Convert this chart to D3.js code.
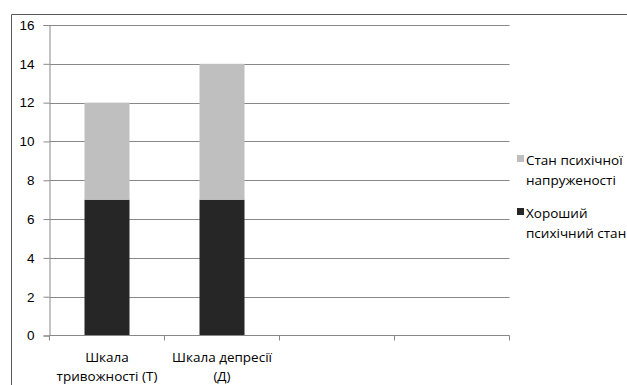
<!DOCTYPE html>
<html>
<head>
<meta charset="utf-8">
<script src="https://cdn.jsdelivr.net/npm/d3@7"></script>
<style>
  html, body { margin: 0; padding: 0; background: #fff; }
  svg { display: block; font-family: "Open Sans", "Noto Sans", sans-serif; }
</style>
</head>
<body>
<svg id="chart" width="627" height="385"></svg>
<script>
// Categories (x-axis labels, split into display lines); the last two slots are empty
const categories = ["Шкала тривожності (Т)", "Шкала депресії (Д)", "", ""];
const categoryLines = [["Шкала", "тривожності (Т)"], ["Шкала депресії", "(Д)"], [], []];

// Stacked series values
const seriesNames = ["Хороший психічний стан", "Стан психічної напруженості"];
const goodState = [7, 7, 0, 0];
const tensionState = [5, 7, 0, 0];

// Y-axis ticks
const yTicks = [0, 2, 4, 6, 8, 10, 12, 14, 16];

// Legend lines (top to bottom)
const legendItems = [
  { lines: ["Стан психічної", "напруженості"], series: 1 },
  { lines: ["Хороший", "психічний стан"], series: 0 }
];

const colors = ["#262626", "#bfbfbf"];
const gridColor = "#888888";
const fontSize = "13.5px";

const svg = d3.select("#chart");

// Outer chart frame (left and top edges visible)
svg.append("path")
  .attr("d", "M11.5,400 V14.5 H640")
  .attr("fill", "none")
  .attr("stroke", "#595959")
  .attr("stroke-width", 1);

const plot = { left: 49.5, right: 509.5, top: 25, bottom: 335.5 };

const x = d3.scaleBand()
  .domain(d3.range(categories.length))
  .range([plot.left, plot.right])
  .paddingInner(70 / 115)
  .paddingOuter(35 / 115)
  .align(0.5);

const y = d3.scaleLinear()
  .domain([0, 16])
  .range([plot.bottom, plot.top]);

// Horizontal gridlines
svg.append("g")
  .selectAll("line")
  .data(yTicks.filter(d => d > 0))
  .join("line")
  .attr("x1", plot.left)
  .attr("x2", plot.right)
  .attr("y1", d => Math.round(y(d)) + 0.5)
  .attr("y2", d => Math.round(y(d)) + 0.5)
  .attr("stroke", gridColor)
  .attr("stroke-width", 1);

// Stacked bars
const rows = categories.map((c, i) => ({ i, good: goodState[i], tension: tensionState[i] }));
const stack = d3.stack().keys(["good", "tension"]);
const stacked = stack(rows);

svg.append("g")
  .selectAll("g")
  .data(stacked)
  .join("g")
  .attr("fill", (d, k) => colors[k])
  .selectAll("rect")
  .data(d => d)
  .join("rect")
  .attr("x", d => x(d.data.i))
  .attr("width", x.bandwidth())
  .attr("y", d => y(d[1]))
  .attr("height", d => y(d[0]) - y(d[1]));

// Y axis
const yAxis = d3.axisLeft(y)
  .tickValues(yTicks)
  .tickSize(6)
  .tickPadding(9)
  .tickFormat(d3.format("d"));

const yg = svg.append("g")
  .attr("transform", `translate(${plot.left},0)`)
  .call(yAxis);
yg.select(".domain").attr("stroke", gridColor);
yg.selectAll(".tick line").attr("stroke", gridColor);
yg.selectAll(".tick text")
  .attr("fill", "#000")
  .style("font-size", fontSize);

// X axis: baseline with ticks at category boundaries
const xg = svg.append("g");
xg.append("line")
  .attr("x1", plot.left).attr("x2", plot.right)
  .attr("y1", plot.bottom).attr("y2", plot.bottom)
  .attr("stroke", gridColor);
const boundaries = d3.range(categories.length + 1).map(i => plot.left + i * x.step());
xg.selectAll("line.tick")
  .data(boundaries)
  .join("line")
  .attr("class", "tick")
  .attr("x1", d => d).attr("x2", d => d)
  .attr("y1", plot.bottom).attr("y2", plot.bottom + 5)
  .attr("stroke", gridColor);

// Category labels
xg.selectAll("text")
  .data(categoryLines)
  .join("text")
  .attr("text-anchor", "middle")
  .attr("fill", "#000")
  .style("font-size", fontSize)
  .each(function (lines, i) {
    const cx = x(i) + x.bandwidth() / 2;
    d3.select(this).selectAll("tspan")
      .data(lines)
      .join("tspan")
      .attr("x", cx)
      .attr("y", (d, j) => 362 + j * 19)
      .text(d => d);
  });

// Legend
const legend = svg.append("g");
const legendY = [155, 208];
legendItems.forEach((item, k) => {
  const g = legend.append("g");
  g.append("rect")
    .attr("x", 517).attr("y", legendY[k])
    .attr("width", 7).attr("height", 7)
    .attr("fill", colors[item.series]);
  g.append("text")
    .attr("fill", "#000")
    .style("font-size", fontSize)
    .selectAll("tspan")
    .data(item.lines)
    .join("tspan")
    .attr("x", 526)
    .attr("y", (d, j) => legendY[k] + 10 + j * 20)
    .text(d => d);
});
</script>
</body>
</html>
